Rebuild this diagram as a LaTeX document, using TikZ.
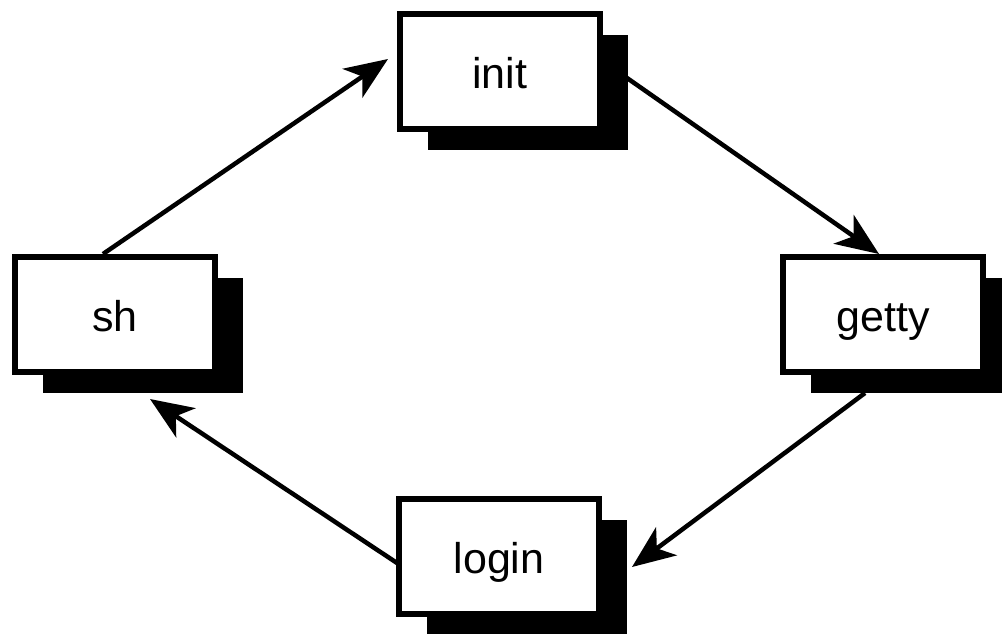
\documentclass[tikz,border=0pt]{standalone}
\usepackage{fontspec}
\setmainfont{Liberation Sans}
\usetikzlibrary{shadows,arrows.meta}
\tikzset{
  procbox/.style={draw=black, fill=white, line width=6pt, minimum width=200pt, minimum height=115pt,
    inner sep=0pt, text height=34pt, text depth=0pt, font=\fontsize{43}{50}\selectfont,
    drop shadow={shadow xshift=28pt, shadow yshift=-21pt, fill=black, opacity=1}},
  flow/.style={line width=4.5pt, -{Stealth[length=43pt, width=35pt, inset=12pt]}}
}
\begin{document}
\begin{tikzpicture}[x=1pt,y=1pt]
\useasboundingbox (0,0) rectangle (1002,633);
\node[procbox] (init) at (499.5,561) {init};
\node[procbox] (sh) at (115,318.5) {sh};
\node[procbox] (getty) at (883,318.5) {getty};
\node[procbox] (login) at (499,77) {login};
\draw[flow] ([xshift=-12pt]sh.north) -- ([xshift=-8.5pt,yshift=13pt]init.west);
\draw[flow] ([xshift=24.5pt,yshift=-6pt]init.east) -- ([xshift=-4pt]getty.north);
\draw[flow] ([xshift=-18pt,yshift=-18pt]getty.south) -- ([xshift=30pt,yshift=-11pt]login.east);
\draw[flow] ([xshift=1pt,yshift=-7pt]login.west) -- ([xshift=35pt,yshift=-24pt]sh.south);
\end{tikzpicture}
\end{document}
